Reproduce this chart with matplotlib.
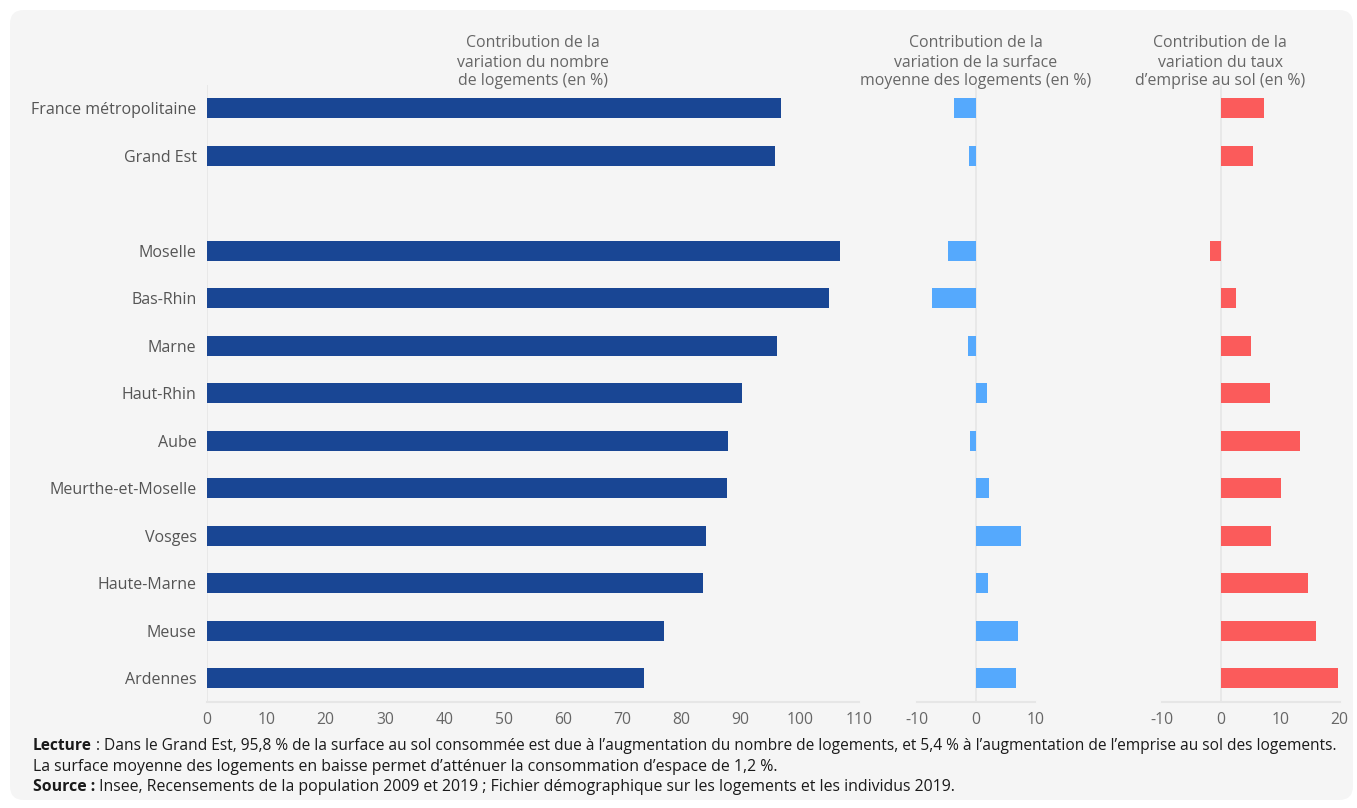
import matplotlib
matplotlib.use("Agg")
import matplotlib.pyplot as plt
from matplotlib.patches import FancyBboxPatch

plt.rcParams['font.family'] = ['Open Sans', 'DejaVu Sans']

categories = ["France métropolitaine", "Grand Est", "", "Moselle", "Bas-Rhin", "Marne",
              "Haut-Rhin", "Aube", "Meurthe-et-Moselle", "Vosges", "Haute-Marne",
              "Meuse", "Ardennes"]
nombre_logements = [96.8, 95.8, None, 106.7, 104.9, 96.1, 90.2, 87.9, 87.7, 84.1, 83.6, 77.1, 73.7]
surface_moyenne = [-3.7, -1.2, None, -4.7, -7.4, -1.3, 1.9, -1.0, 2.2, 7.6, 2.0, 7.1, 6.7]
emprise_sol = [7.2, 5.4, None, -1.9, 2.6, 5.1, 8.2, 13.3, 10.2, 8.4, 14.6, 16.0, 19.8]

titles = [["Contribution de la", "variation du nombre", "de logements (en %)"],
          ["Contribution de la", "variation de la surface", "moyenne des logements (en %)"],
          ["Contribution de la", "variation du taux", "d’emprise au sol (en %)"]]
ticks1 = [0, 10, 20, 30, 40, 50, 60, 70, 80, 90, 100, 110]
ticks2 = [-10, 0, 10]
ticks3 = [-10, 0, 10, 20]

colors = ["#194694", "#55a9fd", "#fb5b5b"]

W, H = 1357, 808
fig = plt.figure(figsize=(W / 100, H / 100), dpi=100, facecolor="white")

# background card
card = FancyBboxPatch((10, 8), 1343, 790, boxstyle="round,pad=0,rounding_size=14",
                      transform=None, facecolor="#f5f5f5", edgecolor="none", zorder=-5)
fig.patches.append(card)

top_px, bot_px = 84.5, 702
scale = 5.93  # px per unit

def make_ax(x0_px, xmin, xmax):
    width_px = (xmax - xmin) * scale
    ax = fig.add_axes([x0_px / W, 1 - bot_px / H, width_px / W, (bot_px - top_px) / H])
    ax.set_zorder(2)
    ax.set_xlim(xmin, xmax)
    ax.set_ylim(len(categories) - 0.5, -0.5)
    ax.patch.set_alpha(0)
    for s in ["top", "right", "left"]:
        ax.spines[s].set_visible(False)
    ax.spines["bottom"].set_color("#e6e6e6")
    ax.spines["bottom"].set_linewidth(1.5)
    ax.tick_params(axis="both", length=0, labelsize=11.3, labelcolor="#666666")
    ax.tick_params(axis="x", pad=7)
    ax.axvline(0, color="#e6e6e6", lw=1.2, zorder=1)
    return ax

ax1 = make_ax(207, 0, 110)
ax2 = make_ax(976 - 10 * scale, -10, 10)
ax3 = make_ax(1221 - 10 * scale, -10, 20)

ypos = list(range(len(categories)))
for ax, vals, col, ticks in [(ax1, nombre_logements, colors[0], ticks1),
                             (ax2, surface_moyenne, colors[1], ticks2),
                             (ax3, emprise_sol, colors[2], ticks3)]:
    ys = [y for y, v in zip(ypos, vals) if v is not None]
    vs = [v for v in vals if v is not None]
    ax.barh(ys, vs, height=0.42, color=col, zorder=2)
    ax.set_xticks(ticks)
    ax.set_xticklabels([str(t) for t in ticks])

ax1.set_yticks(ypos)
ax1.set_yticklabels(categories, fontsize=11.5, color="#555555")
ax1.tick_params(axis="y", pad=7.5)
ax2.set_yticks([])
ax3.set_yticks([])

# panel titles
title_x = [533, 976, 1220]
line_y = [43, 63, 81]
for tx, lines in zip(title_x, titles):
    for ly, line in zip(line_y, lines):
        fig.text(tx / W, 1 - ly / H, line, ha="center", va="center",
                 fontsize=11.4, color="#666666")

# footer
fig.canvas.draw()
renderer = fig.canvas.get_renderer()

def rich_line(y_px, bold, rest, size):
    x = 33 / W
    if bold:
        t = fig.text(x, 1 - y_px / H, bold, ha="left", va="baseline", fontsize=size,
                     fontweight="bold", color="#1a1a1a")
        bb = t.get_window_extent(renderer)
        x = bb.x1 / W
    fig.text(x, 1 - y_px / H, rest, ha="left", va="baseline", fontsize=size, color="#1a1a1a")

rich_line(750, "Lecture", " : Dans le Grand Est, 95,8 % de la surface au sol consommée est due à l’augmentation du nombre de logements, et 5,4 % à l’augmentation de l’emprise au sol des logements.", 11.2)
rich_line(771, None, "La surface moyenne des logements en baisse permet d’atténuer la consommation d’espace de 1,2 %.", 11.4)
rich_line(791, "Source :", " Insee, Recensements de la population 2009 et 2019 ; Fichier démographique sur les logements et les individus 2019.", 11.4)

fig.savefig("out.png", dpi=100, facecolor="white")
